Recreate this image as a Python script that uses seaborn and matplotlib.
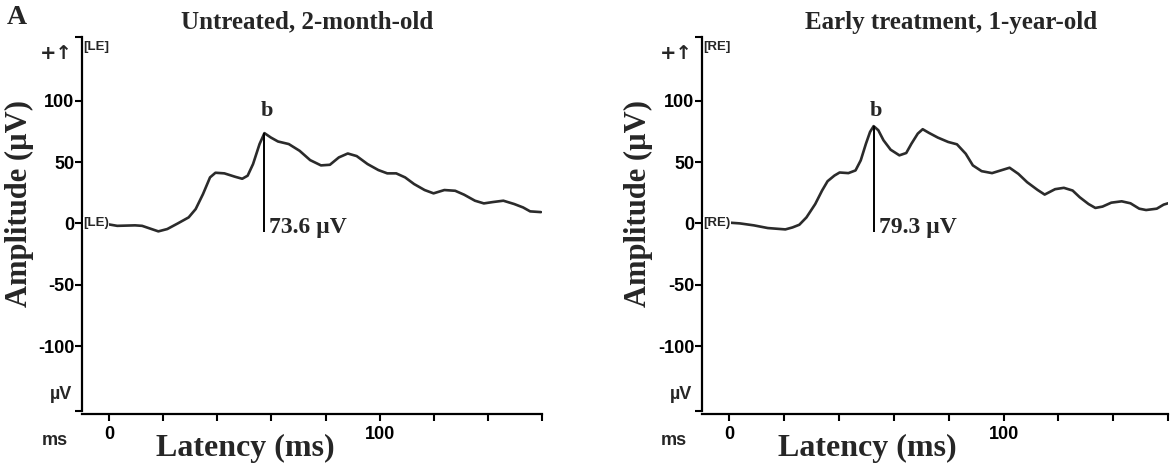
import numpy as np
import pandas as pd
import matplotlib
matplotlib.use("Agg")
import matplotlib.pyplot as plt
import seaborn as sns

# ---------------------------------------------------------
# data
# ---------------------------------------------------------
left_ms = [-8, -1, 3, 9.6, 12.2, 18.2, 21.5, 25.4, 29.4, 32, 34.7, 37.3, 39.3, 42.6,
           46.6, 49.2, 51.2, 53.2, 55.6, 57.4, 59.8, 62.4, 66.4, 70.4, 74.3, 78.3,
           81.6, 84.9, 88.2, 91.5, 95.5, 99.5, 102.8, 106.1, 109.4, 112.7, 116.6,
           119.9, 123.9, 127.9, 131.2, 135.2, 138.5, 141.8, 145.7, 149.7, 153,
           155.6, 159.6]
left_uv = [0, -0.5, -2, -1.6, -2, -6.5, -4.6, 0, 4.9, 11.7, 23.9, 37.5, 41.3, 40.8,
           38, 36.4, 38.9, 48.4, 64.7, 73.6, 70, 66.8, 64.7, 59.2, 51.6, 47.3,
           47.8, 53.8, 57, 54.9, 48.4, 43.5, 40.8, 40.8, 37.5, 32.1, 27.2,
           24.5, 27.2, 26.6, 23.4, 18.5, 16.3, 17.4, 18.5, 15.8, 13,
           9.8, 9.2]

right_ms = [-8, -1.3, 3.8, 8.9, 14, 20.4, 23, 25.5, 28.1, 31.3, 33.8, 35.8, 38.3,
            40.2, 43.4, 46, 47.9, 49.8, 51.3, 52.6, 54.3, 56.2, 58.8, 62, 64.5,
            66.4, 68.7, 70.5, 72.8, 76, 79.8, 83, 86.2, 88.8, 92, 95.8, 99, 102.2,
            105.4, 108.6, 112.4, 115, 118.8, 122, 125.2, 127.8, 131, 133.5, 136.1,
            139.3, 143.1, 146.3, 149.5, 152, 155.9, 158.4, 160]
right_uv = [0.5, 0.8, 0, -1.6, -3.8, -4.9, -3.3, -1.1, 4.9, 15.8, 26.8, 34.4, 39,
            41.5, 41, 43.2, 51.4, 65, 74.6, 79.3, 76, 67.8, 60.1, 55.5, 57.4,
            65, 73.2, 76.8, 73.8, 70, 66.4, 64.5, 56.8, 47.3, 42.6, 41, 43.2, 45.4,
            40.4, 33.6, 27.3, 23.5, 27.9, 29, 26.8, 21.3, 15.8, 12.6, 13.7,
            16.9, 18, 16.4, 12, 10.9, 12, 15.3, 16.4]

titles = ["Untreated, 2-month-old", "Early treatment, 1-year-old"]
eye_tags = ["LE", "RE"]
peak_labels = ["73.6 \u00b5V", "79.3 \u00b5V"]

y_ticks = [-153, -100, -50, 0, 50, 100, 152]
y_ticklabels = ["", "-100", "-50", "0", "50", "100", ""]
x_ticks = [0, 20, 40, 60, 80, 100, 120, 140, 160]
x_ticklabels = ["0", "", "", "", "", "100", "", "", ""]

sns.set_style("ticks")
plt.rcParams["font.family"] = ["Liberation Sans", "DejaVu Sans"]

serif = ["Liberation Serif", "DejaVu Serif"]
tick_font = {"family": ["Liberation Sans", "DejaVu Sans"], "weight": "bold", "size": 13}

fig = plt.figure(figsize=(11.72, 4.66), dpi=100)
ax_left = fig.add_axes([0.070, 0.118, 0.3925, 0.8026])
ax_right = fig.add_axes([0.599, 0.118, 0.3976, 0.8026])

panels = [
    (ax_left, left_ms, left_uv, titles[0], eye_tags[0], peak_labels[0], 0.49),
    (ax_right, right_ms, right_uv, titles[1], eye_tags[1], peak_labels[1], 0.535),
]

for ax, ms, uv, title, tag, peak_label, title_x in panels:
    df = pd.DataFrame({"Latency": ms, "Amplitude": uv})
    sns.lineplot(data=df, x="Latency", y="Amplitude", ax=ax, color="#2b2b2b",
                 linewidth=1.9, zorder=3)

    ax.set_xlim(-10, 160)
    ax.set_ylim(-153, 152)
    sns.despine(ax=ax)
    for side in ["left", "bottom"]:
        ax.spines[side].set_linewidth(1.6)
        ax.spines[side].set_color("black")
    ax.spines["bottom"].set_position(("outward", 2))

    ax.set_yticks(y_ticks)
    ax.set_yticklabels(y_ticklabels, fontdict=tick_font)
    ax.set_xticks(x_ticks)
    ax.set_xticklabels(x_ticklabels, fontdict=tick_font)
    ax.tick_params(axis="y", length=5, width=1.5, pad=0.5, colors="black")
    ax.tick_params(axis="x", length=5, width=1.5, pad=4, colors="black")

    # GraphPad-style axis end labels
    ax.text(-0.02, 0.955, "+\u2191", transform=ax.transAxes, ha="right", va="center",
            fontsize=14, fontweight="bold", family=["DejaVu Sans"])
    ax.text(-0.022, 0.045, "\u00b5V", transform=ax.transAxes, ha="right", va="center",
            **tick_font)
    ax.text(-0.06, -0.055, "ms", transform=ax.transAxes, ha="center", va="top",
            **tick_font)
    ax.text(-9.6, 144, "[" + tag + "]", ha="left", va="center", fontsize=9.5,
            fontweight="bold", clip_on=False)
    ax.text(-9.6, 0, "[" + tag + ")", ha="left", va="center", fontsize=9.5,
            fontweight="bold", zorder=4,
            bbox=dict(facecolor="white", edgecolor="none", pad=0.3))

    # b-wave marker
    peak_i = int(np.argmax(uv))
    peak_x, peak_y = ms[peak_i], uv[peak_i]
    ax.vlines(peak_x, -7, peak_y, color="black", linewidth=1.4, zorder=4)
    ax.text(peak_x + 0.8, 92, "b", ha="center", va="center", fontsize=16,
            fontweight="bold", family=serif)
    ax.text(peak_x + 1.8, -3, peak_label, ha="left", va="center", fontsize=17,
            fontweight="bold", family=serif)

    ax.set_title(title, x=title_x, y=1.0, fontsize=18, fontweight="bold",
                 family=serif, pad=6)
    ax.set_xlabel("Latency (ms)", fontsize=23, fontweight="bold", family=serif)
    ax.xaxis.set_label_coords(0.355, -0.06)
    ax.set_ylabel("Amplitude (\u00b5V)", fontsize=22, fontweight="bold", family=serif)
    ax.yaxis.set_label_coords(-0.105, 0.555)

fig.text(0.006, 0.948, "A", fontsize=20, fontweight="bold", family=serif,
         ha="left", va="baseline")

fig.savefig("out.png", dpi=100)
